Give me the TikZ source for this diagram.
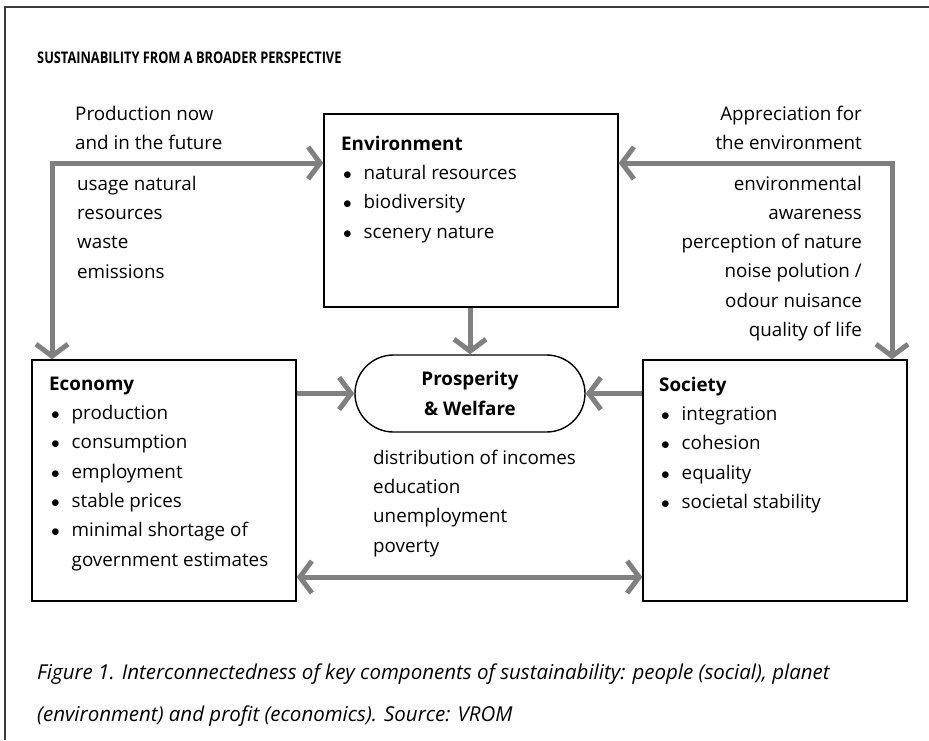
\documentclass[tikz,border=0pt]{standalone}
\usepackage{fontspec}
\setmainfont{Open Sans}
\usetikzlibrary{arrows.meta,positioning,shapes.misc}
\definecolor{flowgray}{HTML}{808080}
\definecolor{framegray}{HTML}{3C3C3C}
\newcommand{\bul}{\hspace*{2pt}\makebox[20.5pt][l]{$\bullet$}}
\newcommand{\nobul}{\hspace*{22.5pt}}

\begin{document}
\begin{tikzpicture}[x=1pt,y=-1pt,
    every node/.style={font=\fontsize{18.8}{29.3}\selectfont,inner sep=0pt},
    box/.style={draw,line width=1.4pt,minimum width=264pt,minimum height=241pt},
    lbl/.style={align=left,anchor=base west},
    rlbl/.style={align=right,anchor=base east},
    flow/.style={draw=flowgray,line width=5pt},
    >={Straight Barb[length=12pt,width=32pt]}]
  \useasboundingbox (0,0) rectangle (929,740);
  % open frame, left and top only
  \draw[framegray,line width=2pt] (5,740) -- (5,7) -- (929,7);
  \node[lbl,font=\fontsize{16}{20}\selectfont\bfseries] (title) at (37,63.5) {\scalebox{0.8}[1]{SUSTAINABILITY FROM A BROADER PERSPECTIVE}};

  % boxes
  \node[box,minimum width=294pt,minimum height=193pt] (env) at (471,210.5) {};
  \node[box] (econ) at (164,480.5) {};
  \node[box] (soc) at (775,480.5) {};
  \node[draw,rounded rectangle,line width=1.4pt,minimum width=230pt,minimum height=77pt,
        align=center,font=\fontsize{18.8}{29.3}\selectfont\bfseries] (pros) at (470,393.5) {Prosperity\\\& Welfare};

  % box contents (placed at the baseline of their last line)
  \node[lbl] (envtxt) at (341,238) {\textbf{Environment}\\\bul natural resources\\\bul biodiversity\\\bul scenery nature};
  \node[lbl] (econtxt) at (49,566) {\textbf{Economy}\\\bul production\\\bul consumption\\\bul employment\\\bul stable prices\\\bul minimal shortage of\\\nobul government estimates};
  \node[lbl] (soctxt) at (659,508.5) {\textbf{Society}\\\bul integration\\\bul cohesion\\\bul equality\\\bul societal stability};

  % side labels
  \node[lbl] (prodlbl) at (75,149.5) {Production now\\and in the future};
  \node[lbl] (uselbl) at (77,278) {usage natural\\resources\\waste\\emissions};
  \node[rlbl] (applbl) at (862,149.5) {Appreciation for\\the environment};
  \node[rlbl] (awarelbl) at (862,336.5) {environmental\\awareness\\perception of nature\\noise polution /\\odour nuisance\\quality of life};
  \node[lbl] (welflbl) at (373,552) {distribution of incomes\\education\\unemployment\\poverty};

  % connectors
  \coordinate (pl) at (52,163);
  \coordinate (pr) at (892,163);
  \coordinate (bot) at (470,577);
  \draw[flow,<->] (econ.north -| pl) -- (pl) -- (env.west |- pl);
  \draw[flow,<->] (env.east |- pr) -- (pr) -- (soc.north -| pr);
  \draw[flow,->] (env.south -| pros) -- (pros.north);
  \draw[flow,->] (econ.east |- pros) -- (pros.west);
  \draw[flow,->] (soc.west |- pros) -- (pros.east);
  \draw[flow,<->] (econ.east |- bot) -- (soc.west |- bot);

  \node[lbl,font=\fontsize{20.5}{42}\selectfont\itshape] (caption) at (37,721) {Figure 1. Interconnectedness of key components of sustainability: people (social), planet\\(environment) and profit (economics). Source: VROM};
\end{tikzpicture}
\end{document}
